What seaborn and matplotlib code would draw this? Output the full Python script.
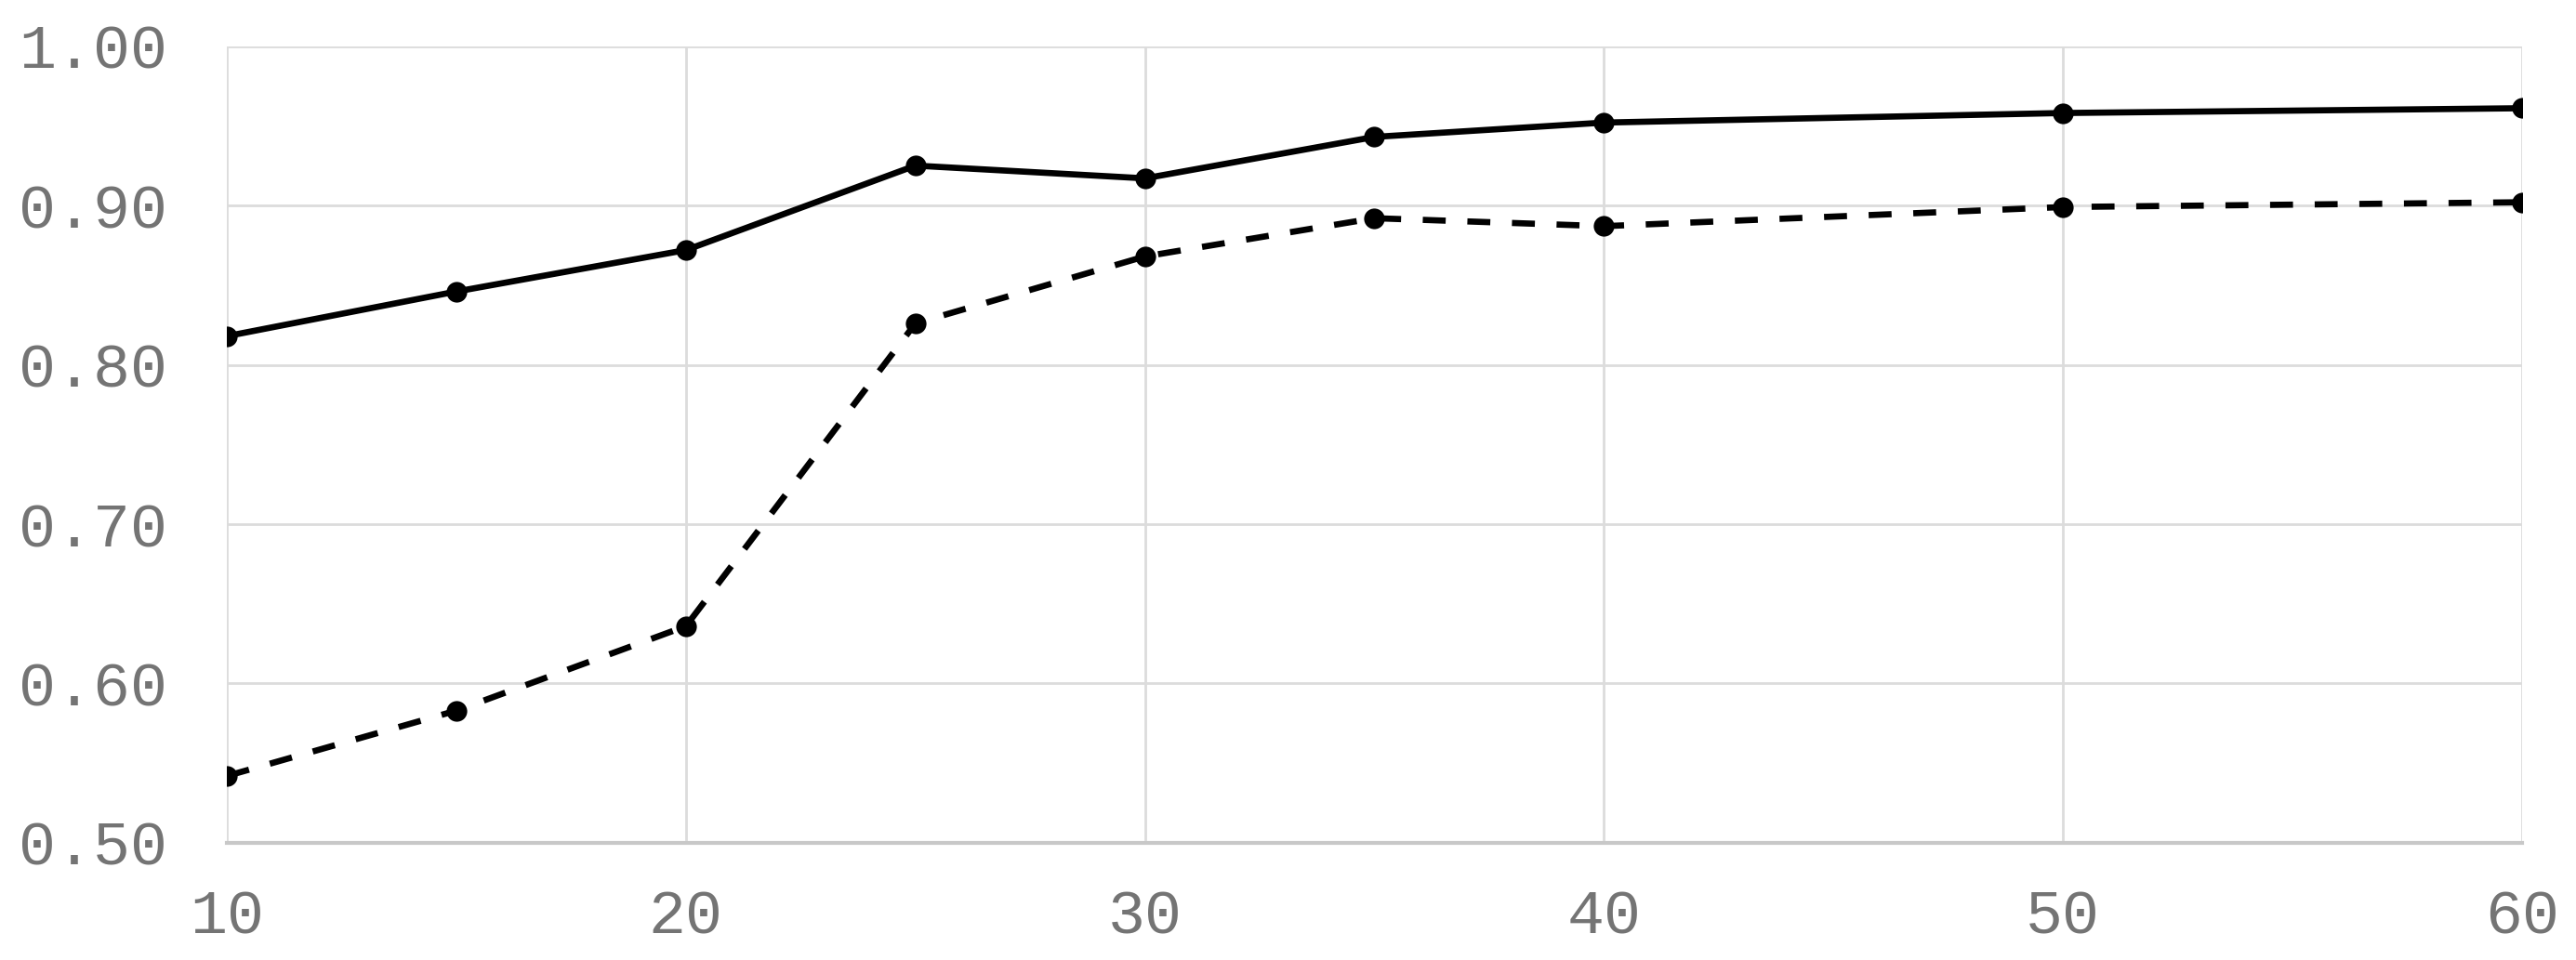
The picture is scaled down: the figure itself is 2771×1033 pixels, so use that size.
import matplotlib
matplotlib.use("Agg")
import matplotlib.pyplot as plt
import seaborn as sns
import pandas as pd

x_values = [10, 15, 20, 25, 30, 35, 40, 50, 60]
solid_series = [0.818, 0.846, 0.872, 0.925, 0.917, 0.943, 0.952, 0.958, 0.961]
dashed_series = [0.542, 0.583, 0.636, 0.826, 0.868, 0.892, 0.887, 0.899, 0.902]
series_names = ["A", "B"]
x_ticks = [10, 20, 30, 40, 50, 60]
y_ticks = [0.50, 0.60, 0.70, 0.80, 0.90, 1.00]

df = pd.DataFrame({
    "x": x_values * 2,
    "y": solid_series + dashed_series,
    "series": [series_names[0]] * len(x_values) + [series_names[1]] * len(x_values),
})

sns.set_theme(style="white")
plt.rcParams["font.family"] = ["Liberation Mono", "DejaVu Sans Mono"]

fig = plt.figure(figsize=(27.71, 10.33), dpi=100)
ax = fig.add_axes([0.0881, 0.122, 0.979 - 0.0881, 0.952 - 0.122])

sns.lineplot(
    data=df, x="x", y="y", style="series",
    markers=["o", "o"], dashes=["", (3.7, 3.5)],
    color="black", linewidth=4.8, markersize=16,
    markeredgewidth=0, legend=False, ax=ax, zorder=5,
)

ax.set_xlim(10, 60)
ax.set_ylim(0.50, 1.00)
ax.set_xticks(x_ticks)
ax.set_yticks(y_ticks)
ax.set_xticklabels([str(t) for t in x_ticks])
ax.set_yticklabels([f"{t:.2f}" for t in y_ticks])
ax.grid(True, color="#dcdcdc", linewidth=2.0)
ax.set_axisbelow(True)
for side in ["top", "right", "left"]:
    ax.spines[side].set_visible(False)
ax.spines["bottom"].set_color("#c8c8c8")
ax.spines["bottom"].set_linewidth(3)
ax.set_xlabel("")
ax.set_ylabel("")
ax.tick_params(axis="both", length=0, labelsize=48, labelcolor="#747474")
ax.tick_params(axis="y", pad=46)
ax.tick_params(axis="x", pad=36)
for lbl in ax.get_xticklabels() + ax.get_yticklabels():
    lbl.set_clip_on(False)

fig.savefig("out.png", dpi=100)
